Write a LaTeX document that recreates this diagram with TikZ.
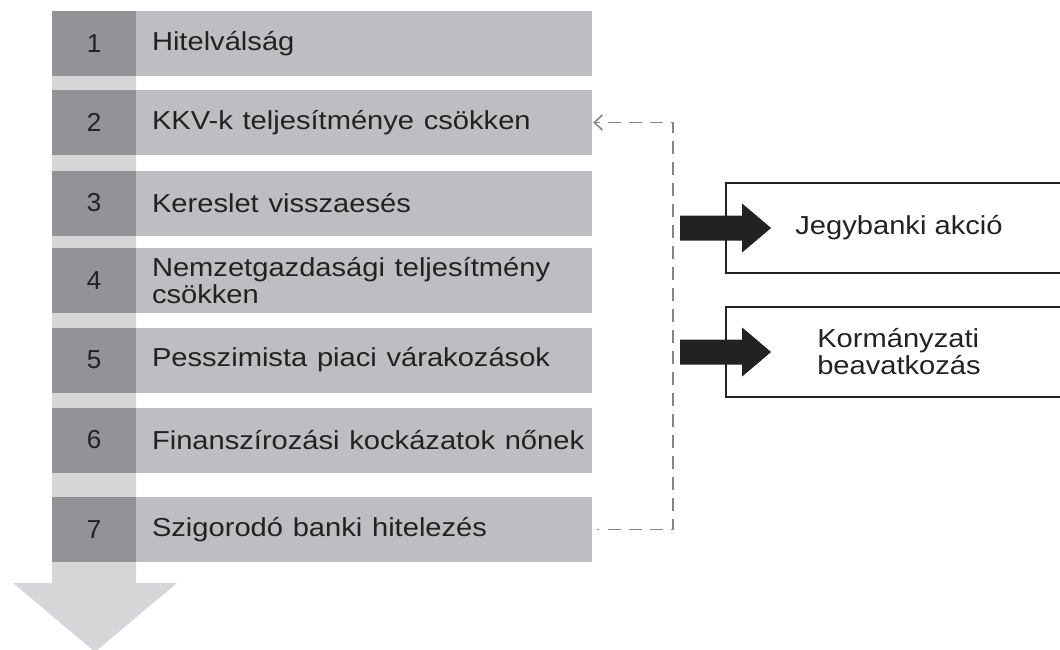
\documentclass[tikz,border=0pt]{standalone}
\usepackage{fontspec}
\setmainfont{Liberation Sans}
\usepackage{graphicx}
\usetikzlibrary{arrows.meta}
\definecolor{numcol}{HTML}{929397}
\definecolor{txtcol}{HTML}{BDBEC2}
\definecolor{shaftcol}{HTML}{D5D6D8}
\definecolor{inkcol}{HTML}{222222}
\definecolor{dashcol}{HTML}{858585}
\newcommand{\sx}[1]{\scalebox{1.12}[1]{#1}}
\hfuzz=30pt
\hbadness=10000
\begin{document}
\begin{tikzpicture}[x=1pt,y=-1pt,
  labelfont/.style={font=\fontsize{26}{27}\selectfont, text=inkcol},
  numbox/.style={labelfont, fill=numcol, minimum width=84pt, minimum height=65pt, inner sep=0pt},
  txtbox/.style={labelfont, fill=txtcol, text width=424pt, inner xsep=16pt, inner ysep=0pt, minimum height=65pt, align=left},
  actbox/.style={labelfont, draw=inkcol, line width=1.8pt, fill=white, minimum width=346pt, minimum height=90pt, align=left},
  dashconn/.style={draw=dashcol, line width=1.9pt, dash pattern=on 1.5pt off 9pt on 13pt off 8pt on 13pt off 8pt on 13pt off 8pt on 13pt off 8pt on 13pt off 8pt on 13pt off 8pt on 13pt off 8pt on 13pt off 8pt on 13pt off 8pt on 13pt off 8pt on 13pt off 8pt on 13pt off 8pt on 13pt off 8pt on 13pt off 8pt on 13pt off 8pt on 13pt off 8pt on 13pt off 8pt on 13pt off 8pt on 13pt off 8pt on 13pt off 8pt on 13pt off 8pt on 13pt off 8pt on 13pt off 8pt on 13pt off 8pt on 13pt off 8pt on 13pt off 8pt on 13pt off 8pt on 13pt off 8pt on 13pt off 8pt on 13pt off 8pt on 13pt off 8pt on 13pt off 8pt on 13pt off 8pt on 13pt off 8pt},
  fatarrow/.pic={\fill[inkcol] (-45,-12.5) -- (17,-12.5) -- (17,-24.5) -- (46,0) -- (17,24.5) -- (17,12.5) -- (-45,12.5) -- cycle;}
]
\useasboundingbox (0,0) rectangle (1060,650);
\clip (0,0) rectangle (1060,650);
% big background arrow
\fill[shaftcol] (52,12) -- (136,12) -- (136,583) -- (177,583) -- (95,652) -- (13,583) -- (52,583) -- cycle;
% rows
\node[numbox] (n1) at (94,44) {1};
\node[txtbox] (t1) at (364,44) {\sx{Hitelválság}};
\node[numbox] (n2) at (94,122.5) {2};
\node[txtbox] (t2) at (364,122.5) {\sx{KKV-k teljesítménye csökken}};
\node[numbox] (n3) at (94,203) {3};
\node[txtbox] (t3) at (364,203) {\sx{Kereslet visszaesés}};
\node[numbox] (n4) at (94,280.5) {4};
\node[txtbox] (t4) at (364,280.5) {\sx{Nemzetgazdasági teljesítmény}\\\sx{csökken}};
\node[numbox] (n5) at (94,360) {5};
\node[txtbox] (t5) at (364,360) {\sx{Pesszimista piaci várakozások}};
\node[numbox] (n6) at (94,440) {6};
\node[txtbox] (t6) at (364,440) {\sx{Finanszírozási kockázatok nőnek}};
\node[numbox] (n7) at (94,529.5) {7};
\node[txtbox] (t7) at (364,529.5) {\sx{Szigorodó banki hitelezés}};
% right boxes
\node[actbox] (j) at (899,228) {\sx{Jegybanki akció}};
\node[actbox] (k) at (899,352) {\sx{Kormányzati}\\\sx{beavatkozás}};
\pic at (j.west) {fatarrow};
\pic at (k.west) {fatarrow};
% dashed feedback connector
\draw[dashconn, -{Straight Barb[length=8pt,width=15pt,line width=1.6pt]}]
  ([xshift=5pt]t7.east) -- ++(76,0) |- ([xshift=1pt]t2.east);
\end{tikzpicture}
\end{document}
